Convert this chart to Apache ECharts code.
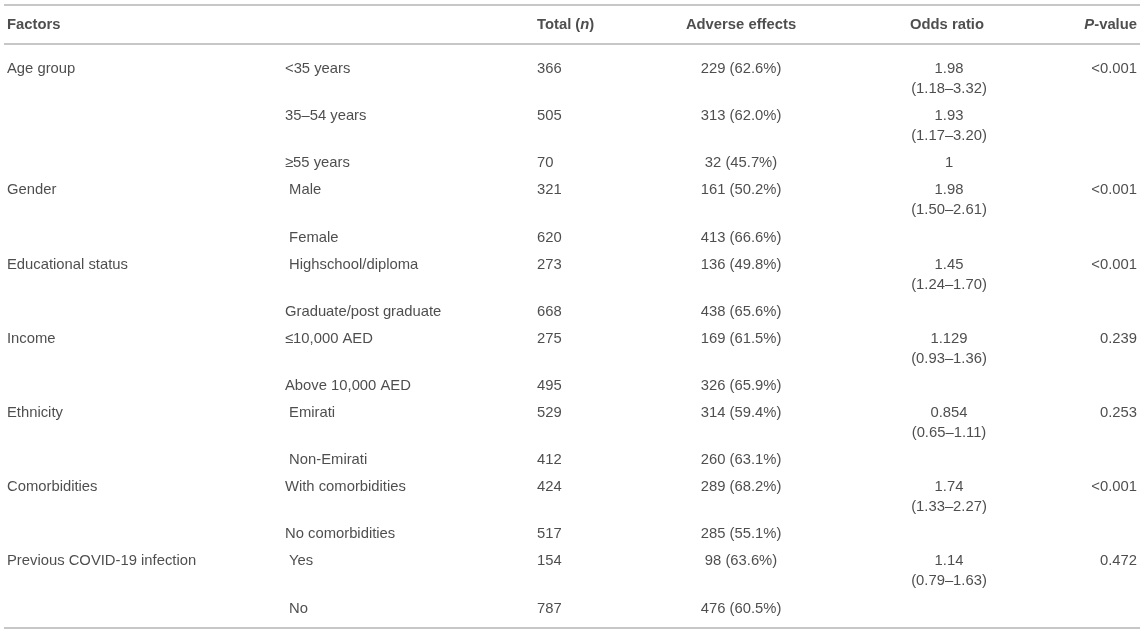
<!DOCTYPE html>
<html>
<head>
<meta charset="utf-8">
<script src="https://cdn.jsdelivr.net/npm/echarts@6/dist/echarts.min.js"></script>
<style>
    html, body { margin: 0; padding: 0; background: #fff; }
    #table { width: 1145px; height: 633px; }
</style>
</head>
<body>
<div id="table"></div>
<script>
// table contents
const factors = ['Age group', '', '', 'Gender', '', 'Educational status', '', 'Income', '', 'Ethnicity', '', 'Comorbidities', '', 'Previous COVID-19 infection', ''];
const levels = ['<35 years', '35–54 years', '≥55 years', ' Male', ' Female', ' Highschool/diploma', 'Graduate/post graduate', '≤10,000 AED', 'Above 10,000 AED', ' Emirati', ' Non-Emirati', 'With comorbidities', 'No comorbidities', ' Yes', ' No'];
const totals = [366, 505, 70, 321, 620, 273, 668, 275, 495, 529, 412, 424, 517, 154, 787];
const adverseN = [229, 313, 32, 161, 413, 136, 438, 169, 326, 314, 260, 289, 285, 98, 476];
const adversePct = [62.6, 62.0, 45.7, 50.2, 66.6, 49.8, 65.6, 61.5, 65.9, 59.4, 63.1, 68.2, 55.1, 63.6, 60.5];
const oddsRatio = ['1.98', '1.93', '1', '1.98', '', '1.45', '', '1.129', '', '0.854', '', '1.74', '', '1.14', ''];
const oddsCI = ['(1.18–3.32)', '(1.17–3.20)', '', '(1.50–2.61)', '', '(1.24–1.70)', '', '(0.93–1.36)', '', '(0.65–1.11)', '', '(1.33–2.27)', '', '(0.79–1.63)', ''];
const pValues = ['<0.001', '', '', '<0.001', '', '<0.001', '', '0.239', '', '0.253', '', '<0.001', '', '0.472', ''];

const FONT = '"Liberation Sans", Arial, Helvetica, sans-serif';
const SIZE = 14.8;
const TEXT = '#222';

// row layout: rows with a CI line are taller
const rowY = [];
let y = 69;
oddsCI.forEach((ci, i) => {
    rowY.push(y);
    y += ci ? 47.2 : 27;
});

function column(name, texts, x, align, dy) {
    return {
        name: name,
        type: 'scatter',
        symbolSize: 1,
        itemStyle: { color: 'rgba(0,0,0,0)' },
        silent: true,
        label: {
            show: true,
            position: 'inside',
            align: align,
            verticalAlign: 'middle',
            fontFamily: FONT,
            fontSize: SIZE,
            color: TEXT,
            formatter: p => p.value[2]
        },
        data: texts.map((t, i) => [x, rowY[i] + (dy || 0), String(t)]).filter(d => d[2] !== '')
    };
}

const headStyle = { fontFamily: FONT, fontSize: SIZE, fontWeight: 'bold', color: TEXT };
const headers = [
    { x: 7, align: 'left', text: 'Factors' },
    { x: 537, align: 'left', text: 'Total ({i|n})' },
    { x: 741, align: 'center', text: 'Adverse effects' },
    { x: 947, align: 'center', text: 'Odds ratio' },
    { x: 1137, align: 'right', text: '{i|P}-value' }
];

const rules = [4.5, 43.5, 628];

const chart = echarts.init(document.getElementById('table'));
chart.setOption({
    animation: false,
    grid: { left: 0, right: 0, top: 0, bottom: 0 },
    xAxis: { type: 'value', min: 0, max: 1145, show: false },
    yAxis: { type: 'value', min: 0, max: 633, inverse: true, show: false },
    series: [
        {
            name: 'header',
            type: 'scatter',
            symbolSize: 1,
            itemStyle: { color: 'rgba(0,0,0,0)' },
            silent: true,
            label: {
                show: true,
                position: 'inside',
                verticalAlign: 'middle',
                ...headStyle,
                formatter: p => p.value[2],
                rich: { i: { ...headStyle, fontStyle: 'italic' } }
            },
            data: headers.map(h => ({ value: [h.x, 24.5, h.text], label: { align: h.align } })),
            markLine: {
                silent: true,
                symbol: ['none', 'none'],
                label: { show: false },
                lineStyle: { color: '#b4b4b4', width: 1.5, type: 'solid' },
                data: rules.map(r => [{ coord: [4, r] }, { coord: [1140, r] }])
            }
        },
        column('factors', factors, 7, 'left'),
        column('levels', levels, 285, 'left'),
        column('total', totals, 537, 'left'),
        column('adverse', adverseN.map((n, i) => n + ' (' + adversePct[i].toFixed(1) + '%)'), 741, 'center'),
        column('odds', oddsRatio, 949, 'center'),
        column('oddsCI', oddsCI, 949, 'center', 20),
        column('p', pValues, 1137, 'right')
    ]
});
</script>
</body>
</html>
